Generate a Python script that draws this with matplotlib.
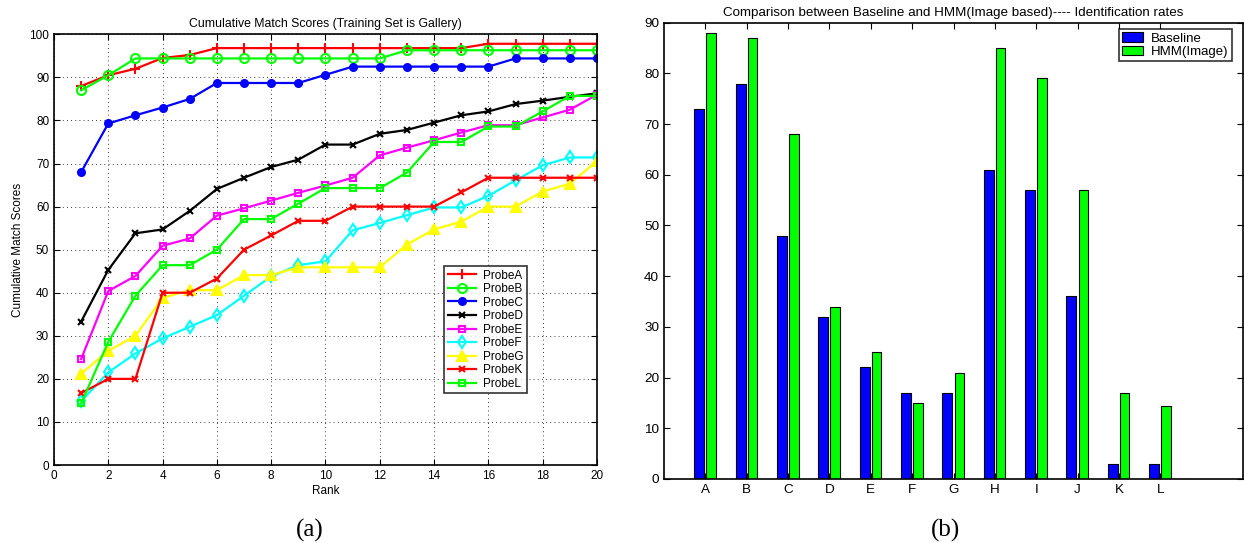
import numpy as np
import matplotlib.pyplot as plt

plt.rcParams['font.family'] = ['Liberation Sans', 'DejaVu Sans']

# ---- (a) cumulative match scores ----
rank = list(range(1, 21))
probe_a = [88, 90.5, 92, 94.5, 95.2, 96.8, 96.8, 96.8, 96.8, 96.8, 96.8, 96.8, 96.8, 96.8, 96.8, 97.8, 97.8, 97.8, 97.8, 97.8]
probe_b = [87, 90.5, 94.4, 94.4, 94.4, 94.4, 94.4, 94.4, 94.4, 94.4, 94.4, 94.4, 96.3, 96.3, 96.3, 96.3, 96.3, 96.3, 96.3, 96.3]
probe_c = [68, 79.3, 81.2, 83, 85, 88.7, 88.7, 88.7, 88.7, 90.6, 92.5, 92.5, 92.5, 92.5, 92.5, 92.5, 94.4, 94.4, 94.4, 94.4]
probe_d = [33.3, 45.3, 53.8, 54.7, 59, 64.1, 66.7, 69.2, 70.9, 74.4, 74.4, 76.9, 77.8, 79.5, 81.2, 82.1, 83.8, 84.6, 85.5, 86.3]
probe_e = [24.6, 40.4, 43.9, 50.9, 52.6, 57.9, 59.6, 61.4, 63.2, 64.9, 66.7, 71.9, 73.7, 75.4, 77.2, 78.9, 78.9, 80.7, 82.5, 86]
probe_f = [14.8, 21.5, 25.9, 29.4, 32.1, 34.8, 39.3, 43.8, 46.4, 47.3, 54.5, 56.2, 58, 59.8, 59.8, 62.5, 66.1, 69.6, 71.4, 71.4]
probe_g = [21.2, 26.5, 30, 38.8, 40.6, 40.6, 44.1, 44.1, 45.9, 45.9, 45.9, 45.9, 51.2, 54.7, 56.5, 60, 60, 63.5, 65.3, 70.6]
probe_k = [16.7, 20, 20, 40, 40, 43.3, 50, 53.3, 56.7, 56.7, 60, 60, 60, 60, 63.3, 66.7, 66.7, 66.7, 66.7, 66.7]
probe_l = [14.3, 28.6, 39.3, 46.4, 46.4, 50, 57.1, 57.1, 60.7, 64.3, 64.3, 64.3, 67.9, 75, 75, 78.6, 78.6, 82.1, 85.7, 85.7]

probe_names = ['ProbeA', 'ProbeB', 'ProbeC', 'ProbeD', 'ProbeE', 'ProbeF', 'ProbeG', 'ProbeK', 'ProbeL']

# ---- (b) identification rates ----
subsets = ['A', 'B', 'C', 'D', 'E', 'F', 'G', 'H', 'I', 'J', 'K', 'L']
baseline = [73, 78, 48, 32, 22, 17, 17, 61, 57, 36, 3, 3]
hmm_image = [88, 87, 68, 34, 25, 15, 21, 85, 79, 57, 17, 14.3]

fig = plt.figure(figsize=(12.44, 5.43), dpi=100)

ax1 = fig.add_axes([0.0434, 0.1436, 0.4365, 0.7932])
styles = [
    ('red', '+', 7, 'none'),
    ('#00ff00', 'o', 6.5, 'none'),
    ('blue', 'o', 5, 'blue'),
    ('black', 'x', 4.5, 'none'),
    ('magenta', 's', 5, 'none'),
    ('cyan', 'd', 6, 'none'),
    ('yellow', '^', 7, 'yellow'),
    ('red', 'x', 4.5, 'none'),
    ('#00ff00', 's', 5, 'none'),
]
series = [probe_a, probe_b, probe_c, probe_d, probe_e, probe_f, probe_g, probe_k, probe_l]
for vals, name, (col, mk, ms, mfc) in zip(series, probe_names, styles):
    ax1.plot(rank, vals, color=col, marker=mk, markersize=ms, markerfacecolor=mfc,
             markeredgecolor=col, markeredgewidth=1.5, linewidth=1.6, label=name)
ax1.set_xlim(0, 20)
ax1.set_ylim(0, 100)
ax1.set_xticks(range(0, 21, 2))
ax1.set_yticks(range(0, 101, 10))
ax1.grid(True, color='black', linestyle=(0, (1, 4)), linewidth=0.6)
ax1.tick_params(direction='in', top=True, right=True, labelsize=8.5, length=4)
ax1.set_xlabel('Rank', fontsize=8.5, labelpad=2)
ax1.set_ylabel('Cumulative Match Scores', fontsize=8.5, labelpad=4)
ax1.set_title('Cumulative Match Scores (Training Set is Gallery)', fontsize=8.8, pad=5)
leg1 = ax1.legend(loc='upper left', bbox_to_anchor=(444 / 1244, 1 - 266 / 543),
                  bbox_transform=fig.transFigure, borderaxespad=0, fontsize=8.5,
                  frameon=True, fancybox=False, edgecolor='black', handlelength=2.4,
                  labelspacing=0.13, borderpad=0.3, handletextpad=0.6)
leg1.get_frame().set_linewidth(1.2)
for sp in ax1.spines.values():
    sp.set_linewidth(1.2)

ax2 = fig.add_axes([0.5338, 0.1179, 0.4654, 0.8403])
x = np.arange(1, len(subsets) + 1)
ax2.bar(x - 0.15, baseline, width=0.24, color='blue', edgecolor='black', linewidth=0.8, label='Baseline')
ax2.bar(x + 0.14, hmm_image, width=0.23, color='#00ff00', edgecolor='black', linewidth=0.8, label='HMM(Image)')
ax2.set_xlim(0, 14)
ax2.set_ylim(0, 90)
ax2.set_xticks(x)
ax2.set_xticklabels(subsets)
ax2.set_yticks(range(0, 91, 10))
ax2.tick_params(direction='in', top=True, right=True, labelsize=9.7, length=4)
ax2.set_title('Comparison between Baseline and HMM(Image based)---- Identification rates',
              fontsize=9.6, pad=5)
leg2 = ax2.legend(loc='upper left', bbox_to_anchor=(1119 / 1244, 1 - 29 / 543),
                  bbox_transform=fig.transFigure, borderaxespad=0, fontsize=9.5,
                  frameon=True, fancybox=False, edgecolor='black',
                  borderpad=0.25, labelspacing=0.1, handlelength=1.6, handletextpad=0.6)
leg2.get_frame().set_linewidth(1.2)
for sp in ax2.spines.values():
    sp.set_linewidth(1.2)

fig.text(310 / 1244, 1 - 530 / 543, '(a)', ha='center', va='center', fontsize=18, family='Liberation Serif')
fig.text(946 / 1244, 1 - 530 / 543, '(b)', ha='center', va='center', fontsize=18, family='Liberation Serif')

fig.savefig('out.png', dpi=100)
